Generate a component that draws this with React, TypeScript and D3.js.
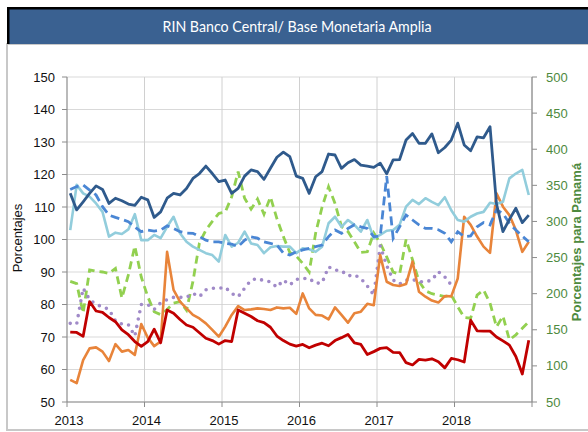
import React from "react";
import * as d3 from "d3";

const years = ["2013", "2014", "2015", "2016", "2017", "2018"];
const leftTicks = [50, 60, 70, 80, 90, 100, 110, 120, 130, 140, 150];
const rightTicks = [50, 100, 150, 200, 250, 300, 350, 400, 450, 500];

// Monthly series, Jan 2013 - Dec 2018 (left axis, %)
const darkBlue = [114.2, 109.1, 111.6, 114.2, 116.5, 115.4, 111.1, 112.7, 111.9, 110.9, 110.5, 113, 112.2, 106.8, 108.5, 112.7, 114.2, 113.7, 115.7, 118.8, 120.3, 122.6, 120.3, 117.8, 118.3, 114.2, 115.7, 119.5, 121.4, 120.9, 118.5, 121.9, 125.3, 126.9, 125.5, 119.5, 118.8, 114.2, 119.3, 120.9, 126.3, 126, 121.9, 123.6, 124.6, 122.9, 122.6, 122.2, 123.5, 120.2, 124.5, 124.6, 130.6, 132.6, 129.6, 129.6, 132.5, 126.7, 128.3, 130.6, 135.8, 129.1, 127.3, 131.6, 131.3, 134.7, 111, 102.4, 106.2, 109.6, 105.2, 107.5];
const dashedBlue = [115.4, 116.3, 116.8, 115.2, 113.7, 110.1, 107.5, 106.8, 106.2, 105.5, 103.8, 102.4, 102.9, 102.6, 102.9, 104.2, 103.4, 102.4, 102, 101.9, 100.9, 99.8, 99.3, 99.3, 98.8, 98.6, 97.8, 99.8, 100.8, 100.4, 99.3, 98.8, 98.3, 95.8, 95.2, 96.2, 96.8, 97.3, 97.8, 98.3, 100.9, 102.9, 101.9, 103.4, 104.5, 103.9, 103.4, 100.9, 101, 119.5, 100.4, 103.9, 107.5, 106, 104.5, 103.4, 103.4, 103, 101.9, 99.3, 102.4, 100.9, 101.1, 103.9, 105.2, 104.5, 109.1, 108, 105, 102.9, 101, 99.3];
const lightBlue = [102.9, 116.8, 114.2, 113.2, 111.1, 108.5, 100.9, 102.1, 101.7, 103.1, 107.8, 99.8, 99.8, 101.4, 100.4, 103.9, 107, 101.9, 99.3, 97.8, 96.8, 95.8, 95.2, 93.2, 101.4, 97.8, 99, 102.4, 98.8, 98.3, 95.8, 97.6, 98, 97.8, 97.8, 95.8, 97.3, 97, 96.2, 97.8, 105, 107, 103.9, 106, 104.5, 102.4, 106, 100.4, 101.4, 102.7, 102.9, 104.5, 110.1, 112.2, 110.9, 112.7, 111.6, 110.6, 113, 109, 106, 105.5, 107, 108, 108.5, 111.3, 110.9, 111.6, 118.8, 120.3, 121.4, 113.7];
const orange = [56.8, 55.8, 62.9, 66.5, 66.8, 65.5, 62.6, 67.8, 65.5, 66, 64.5, 74, 69.8, 67.2, 68.6, 96.2, 84.5, 80.9, 78.8, 76.8, 75.7, 74.2, 72.2, 70.1, 73.2, 76.8, 79.5, 78.3, 78.5, 78.8, 78.6, 78.3, 79.1, 78.8, 79, 77.1, 83.4, 78.8, 76.8, 76.6, 75.4, 79.1, 76.8, 74.4, 77.3, 77.8, 80.2, 79.8, 95.2, 87, 86, 85.7, 86.3, 93.2, 83.9, 82.4, 81.2, 80.6, 82.6, 82.5, 88, 107, 104.5, 100.9, 97.8, 95.9, 114.2, 110.1, 107.5, 102.9, 96.2, 99.3];
const red = [71.5, 71.4, 70.2, 80.9, 78, 77.6, 76, 74.7, 72.2, 70.7, 68.6, 67.1, 68.6, 72.4, 68.2, 78.3, 77.3, 75.4, 73.7, 73, 71.3, 69.6, 68.9, 67.8, 68.9, 68.6, 78.3, 77.3, 76.3, 75, 74.4, 73, 70.3, 68.9, 67.8, 67.2, 67.7, 66.7, 67.5, 68.1, 67.3, 68.9, 69.8, 70.8, 68.2, 67.7, 64.6, 65.5, 66.5, 66.7, 65.3, 65.2, 62.1, 61.4, 63.1, 62.9, 63.3, 62.4, 60.5, 63.4, 63, 62.3, 75.2, 71.9, 71.8, 71.8, 70, 68.8, 67.5, 64, 58.6, 69];
const purple = [74.2, 74, 85, 81.5, 80, 79.3, 78.5, 75, 74, 73.8, 70.3, 80, 80, 78.5, 80.5, 81.5, 82.2, 82.2, 82.2, 83.4, 82.4, 84.5, 85, 85, 85.3, 83.4, 82.4, 85, 87.5, 88, 87.3, 87, 85.3, 87.5, 86, 87.7, 88, 88, 86.5, 86.7, 91.6, 90.6, 90.4, 88.8, 89.1, 88, 85.7, 82.9, 98, 92, 87.5, 86.3, 87.5, 87.7, 87, 87, 87.5, 90.1, 88.5, 86];
// Panama series (right axis, %)
const green = [217, 214, 173, 233, 231, 230, 228, 235, 194, 226, 266, 223, 196, 175, 171, 178, 187, 189, 177, 217, 270, 288, 300, 311, 313, 334, 369, 332, 317, 331, 310, 334, 304, 279, 257, 252, 242, 230, 284, 320, 348, 325, 293, 286, 272, 257, 258, 284, 270, 251, 230, 227, 275, 247, 217, 204, 200, 198, 196, 198, 182, 167, 166, 198, 205, 187, 154, 169, 136, 143, 152, 161];

const W = 588;
const H = 432;
const L = 67;
const R = 532;
const T = 77;
const B = 402;

export default function App() {
  const x = d3.scaleLinear().domain([0, 72]).range([L, R]);
  const yL = d3.scaleLinear().domain([50, 150]).range([B, T]);
  const yR = d3.scaleLinear().domain([50, 500]).range([B, T]);

  const lineL = d3
    .line<number>()
    .x((_, i) => x(i + 0.5))
    .y((d) => yL(d));
  const lineR = d3
    .line<number>()
    .x((_, i) => x(i + 0.5))
    .y((d) => yR(d));

  const font = "'Liberation Sans', Arial, sans-serif";
  const green_txt = "#4e8a3e";

  return (
    <svg
      width={W}
      height={H}
      style={{ position: "absolute", left: 0, top: 0, background: "#fff" }}
    >
      {/* frame */}
      <rect x={0} y={0} width={W} height={H} fill="#fff" />
      <rect x={7} y={44} width={W} height={386} fill="#fff" stroke="#c8c8c8" strokeWidth={2} />
      <rect x={7} y={7} width={W} height={37} fill="#000" />
      <rect x={9.5} y={9.5} width={W} height={34.5} fill="#3a6191" />
      <text
        x={297}
        y={32}
        textAnchor="middle"
        fill="#fff"
        fontFamily="Lato, 'Open Sans', sans-serif"
        fontSize={15}
        textLength={269}
        lengthAdjust="spacingAndGlyphs"
      >
        RIN Banco Central/ Base Monetaria Amplia
      </text>

      {/* gridlines */}
      {leftTicks.map((t) => (
        <line key={"h" + t} x1={L} x2={R} y1={yL(t)} y2={yL(t)} stroke="#d9d9d9" strokeWidth={1} />
      ))}
      {d3.range(1, 7).map((k) => (
        <line key={"v" + k} x1={x(k * 12)} x2={x(k * 12)} y1={T} y2={B} stroke="#d0d0d0" strokeWidth={1} />
      ))}

      {/* axes */}
      <line x1={L} x2={L} y1={T} y2={B} stroke="#8c8c8c" strokeWidth={1.2} />
      <line x1={R} x2={R} y1={T} y2={B} stroke="#8c8c8c" strokeWidth={1.2} />
      <line x1={L} x2={R} y1={B} y2={B} stroke="#8c8c8c" strokeWidth={1.2} />
      {leftTicks.map((t) => (
        <g key={"lt" + t}>
          <line x1={L - 5} x2={L} y1={yL(t)} y2={yL(t)} stroke="#8c8c8c" />
          <text x={55} y={yL(t) + 4.5} textAnchor="end" fontFamily={font} fontSize={13} fill="#111">
            {t}
          </text>
        </g>
      ))}
      {rightTicks.map((t) => (
        <g key={"rt" + t}>
          <line x1={R} x2={R + 5} y1={yR(t)} y2={yR(t)} stroke="#8c8c8c" />
          <text x={546} y={yR(t) + 4.5} textAnchor="start" fontFamily={font} fontSize={13} fill={green_txt}>
            {t}
          </text>
        </g>
      ))}
      {years.map((yv, k) => (
        <g key={"x" + yv}>
          <line x1={x(k * 12)} x2={x(k * 12)} y1={B} y2={B + 5} stroke="#8c8c8c" />
          <text x={x(k * 12) + 2} y={425} textAnchor="middle" fontFamily={font} fontSize={13} fill="#111">
            {yv}
          </text>
        </g>
      ))}
      <line x1={R} x2={R} y1={B} y2={B + 5} stroke="#8c8c8c" />

      {/* axis titles */}
      <text
        transform="translate(22,238) rotate(-90)"
        textAnchor="middle"
        fontFamily={font}
        fontSize={13}
        fill="#111"
      >
        Porcentajes
      </text>
      <text
        transform="translate(581,242) rotate(-90)"
        textAnchor="middle"
        fontFamily={font}
        fontSize={13}
        fontWeight="bold"
        fill={green_txt}
      >
        Porcentajes para Panamá
      </text>

      {/* series */}
      <path d={lineR(green) || ""} fill="none" stroke="#92d050" strokeWidth={2.8} strokeDasharray="8 5" />
      <path
        d={lineL(purple) || ""}
        fill="none"
        stroke="#a08ac8"
        strokeWidth={3.6}
        strokeLinecap="round"
        strokeDasharray="0 7.5"
      />
      <path d={lineL(orange) || ""} fill="none" stroke="#e8843a" strokeWidth={2.6} strokeLinejoin="round" />
      <path d={lineL(red) || ""} fill="none" stroke="#c00000" strokeWidth={2.8} strokeLinejoin="round" />
      <path d={lineL(lightBlue) || ""} fill="none" stroke="#92cddc" strokeWidth={2.6} strokeLinejoin="round" />
      <path d={lineL(dashedBlue) || ""} fill="none" stroke="#4a86d4" strokeWidth={2.8} strokeDasharray="9 5" />
      <path d={lineL(darkBlue) || ""} fill="none" stroke="#2f5a8c" strokeWidth={2.8} strokeLinejoin="round" />
    </svg>
  );
}
